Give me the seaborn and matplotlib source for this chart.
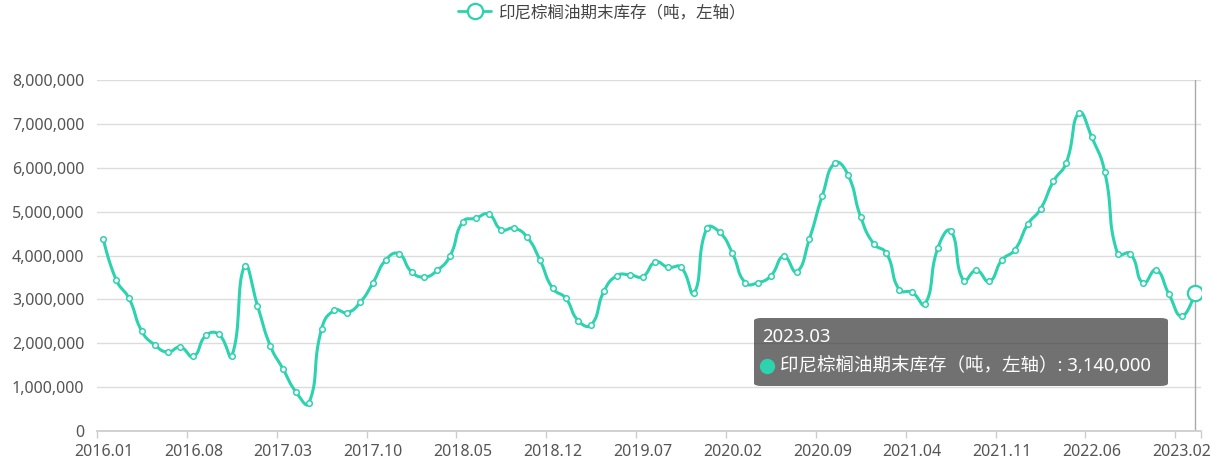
import matplotlib
matplotlib.use("Agg")
import matplotlib.pyplot as plt
from matplotlib.lines import Line2D
from matplotlib.patches import FancyBboxPatch
import seaborn as sns
import pandas as pd
import numpy as np

# 月份（2022 年下半年缺一个月）
months = (
    [f"{y}.{m:02d}" for y in range(2016, 2022) for m in range(1, 13)]
    + [f"2022.{m:02d}" for m in range(1, 13) if m != 11]
    + ["2023.01", "2023.02", "2023.03"]
)

# 印尼棕榈油期末库存（吨）
stock = [
    4370000, 3440000, 3020000, 2270000, 1960000, 1800000, 1910000, 1700000,
    2180000, 2200000, 1710000, 3760000, 2860000, 1940000, 1410000, 890000,
    630000, 2330000, 2750000, 2700000, 2930000, 3380000, 3900000, 4040000,
    3630000, 3510000, 3660000, 3990000, 4770000, 4850000, 4940000, 4590000,
    4620000, 4420000, 3900000, 3250000, 3030000, 2510000, 2420000, 3190000,
    3540000, 3560000, 3520000, 3850000, 3730000, 3730000, 3140000, 4620000,
    4530000, 4050000, 3380000, 3380000, 3540000, 3980000, 3630000, 4380000,
    5360000, 6110000, 5840000, 4870000, 4270000, 4050000, 3220000, 3160000,
    2890000, 4170000, 4560000, 3430000, 3660000, 3410000, 3900000, 4130000,
    4710000, 5060000, 5690000, 6110000, 7250000, 6690000, 5910000, 4040000,
    4040000, 3370000, 3670000, 3120000, 2620000, 3140000,
]

series_name = "印尼棕榈油期末库存（吨，左轴）"
color = "#2dd2ae"

df = pd.DataFrame({"month": months, "stock": stock})
df["idx"] = np.arange(len(df))


def smooth_line(x, y, sx=12.84, sy=43.85e-6, smooth=0.5, n=16):
    # echarts 风格的贝塞尔平滑（在像素空间里算控制点），只用于画线
    P = np.column_stack([x * sx, y * sy])
    m = len(P)
    cp_next = P.copy()
    cp_prev = P.copy()
    for i in range(1, m - 1):
        v = (P[i + 1] - P[i - 1]) * smooth
        d0 = np.linalg.norm(P[i] - P[i - 1])
        d1 = np.linalg.norm(P[i + 1] - P[i])
        r = d1 / (d0 + d1) if d0 + d1 > 0 else 0.5
        cp_next[i] = P[i] + v * r
        cp_prev[i] = P[i] - v * (1 - r)
    t = np.linspace(0, 1, n, endpoint=False)[:, None]
    pts = []
    for i in range(m - 1):
        a, b, c, d = P[i], cp_next[i], cp_prev[i + 1], P[i + 1]
        pts.append((1 - t) ** 3 * a + 3 * (1 - t) ** 2 * t * b
                   + 3 * (1 - t) * t ** 2 * c + t ** 3 * d)
    pts.append(P[-1:])
    pts = np.vstack(pts)
    return pts[:, 0] / sx, pts[:, 1] / sy


lx, ly = smooth_line(df["idx"].values.astype(float), df["stock"].values.astype(float))
curve = pd.DataFrame({"x": lx, "y": ly})

sns.set_theme(style="white")
plt.rcParams["font.family"] = ["Noto Sans", "Noto Sans CJK SC", "DejaVu Sans"]

fig = plt.figure(figsize=(12.32, 4.65), dpi=100)
ax = fig.add_axes([97 / 1232, 1 - 431 / 465, (1201 - 97) / 1232, (431 - 80) / 465])

# 坐标指示线
ax.axvline(len(df) - 1, color="#aaaaaa", lw=1, zorder=1)

sns.lineplot(data=curve, x="x", y="y", ax=ax, color=color, lw=2.2, zorder=3,
             sort=False, estimator=None)
sns.scatterplot(data=df, x="idx", y="stock", ax=ax, s=16, color="white",
                edgecolor=color, linewidth=1.1, zorder=4)
ax.plot(df["idx"].iloc[-1], df["stock"].iloc[-1], "o", ms=11, mfc="white",
        mec=color, mew=1.6, zorder=5)

ax.set_xlim(-0.5, len(df) - 0.5)
ax.set_ylim(0, 8000000)
ax.set_yticks(np.arange(0, 8000001, 1000000))
ax.set_yticklabels([f"{v:,.0f}" for v in np.arange(0, 8000001, 1000000)])
ax.yaxis.grid(True, color="#dcdcdc", lw=1)
ax.set_axisbelow(True)

label_idx = list(range(0, len(df), 7))
ax.set_xticks(label_idx)
ax.set_xticklabels([months[i] for i in label_idx])
ax.set_xticks([i - 0.5 for i in label_idx] + [len(df) - 0.5], minor=True)
ax.tick_params(axis="x", which="major", length=0, pad=9, labelsize=11.5, colors="#555555")
ax.tick_params(axis="x", which="minor", length=5, width=1, color="#cccccc", bottom=True)
ax.tick_params(axis="y", length=0, pad=9, labelsize=11.5, colors="#555555")
ax.set_xlabel("")
ax.set_ylabel("")
for side in ["left", "right", "top"]:
    ax.spines[side].set_visible(False)
ax.spines["bottom"].set_color("#cccccc")

# 图例
handle = Line2D([], [], color=color, lw=2, marker="o", ms=11, mfc="white",
                mec=color, mew=1.6)
fig.legend([handle], [series_name], loc="center", bbox_to_anchor=(602 / 1232, 1 - 13 / 465),
           frameon=False, fontsize=11.9, handlelength=2.0, handletextpad=0.45,
           labelcolor="#444444")

# 提示框
box = FancyBboxPatch((754 / 1232, 1 - 386 / 465), 414 / 1232, 68 / 465,
                     boxstyle="round,pad=0,rounding_size=0.006",
                     transform=fig.transFigure, facecolor="#3a3a3a", alpha=0.72,
                     edgecolor="none", zorder=10)
fig.patches.append(box)
fig.text(762 / 1232, 1 - 337 / 465, months[-1], color="white", fontsize=13.3,
         va="center", ha="left", zorder=11)
fig.add_artist(Line2D([767 / 1232], [1 - 366 / 465], marker="o", ms=10,
                      color=color, transform=fig.transFigure, zorder=11))
fig.text(780 / 1232, 1 - 366 / 465, f"{series_name}: {stock[-1]:,.0f}", color="white",
         fontsize=13.3, va="center", ha="left", zorder=11)

fig.savefig("out.png", dpi=100)
